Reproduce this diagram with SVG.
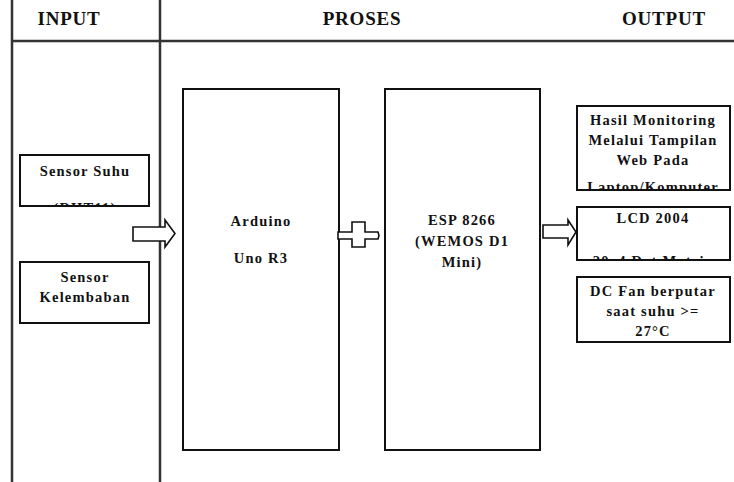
<svg xmlns="http://www.w3.org/2000/svg" width="734" height="482" viewBox="0 0 734 482">
<style>
.box{fill:#fff;stroke:#111;stroke-width:2}
.sep{stroke:#333;stroke-width:2.5;fill:none}
.arr{fill:#fff;stroke:#111;stroke-width:1.6;stroke-linejoin:miter}
.h{font-family:"Liberation Serif",serif;font-weight:bold;font-size:19px;letter-spacing:0.8px;fill:#111;text-anchor:middle}
.t{font-family:"Liberation Serif",serif;font-weight:bold;font-size:14.5px;letter-spacing:1.2px;fill:#111;text-anchor:middle}
</style>
<defs>
<clipPath id="c1"><rect x="21" y="156" width="127" height="49"/></clipPath>
<clipPath id="c2"><rect x="578" y="107" width="151" height="82"/></clipPath>
<clipPath id="c3"><rect x="578" y="208" width="151" height="51"/></clipPath>
</defs>
<rect width="734" height="482" fill="#fff"/>
<g id="frame">
<line class="sep" x1="12" y1="0" x2="12" y2="482"/>
<line class="sep" x1="160" y1="0" x2="160" y2="482"/>
<line class="sep" x1="12" y1="41" x2="734" y2="41"/>
<text class="h" x="69" y="25">INPUT</text>
<text class="h" x="362" y="25">PROSES</text>
<text class="h" x="664" y="25">OUTPUT</text>
</g>
<g id="sensor-suhu">
<rect class="box" x="20" y="155" width="129" height="51"/>
<text class="t" x="85" y="176">Sensor Suhu</text>
<g clip-path="url(#c1)"><text class="t" x="85" y="212.5">(DHT11)</text></g>
</g>
<g id="sensor-kelembaban">
<rect class="box" x="20" y="262" width="129" height="61"/>
<text class="t" x="85" y="282">Sensor</text>
<text class="t" x="85" y="302">Kelembaban</text>
</g>
<g id="arduino">
<rect class="box" x="183" y="89" width="156" height="361"/>
<text class="t" x="261" y="226">Arduino</text>
<text class="t" x="261" y="263">Uno R3</text>
</g>
<g id="esp">
<rect class="box" x="385" y="89" width="155" height="361"/>
<text class="t" x="462" y="225">ESP 8266</text>
<text class="t" x="462" y="246">(WEMOS D1</text>
<text class="t" x="462" y="267">Mini)</text>
</g>
<g id="web">
<rect class="box" x="577" y="106" width="153" height="84"/>
<text class="t" x="653" y="125">Hasil Monitoring</text>
<text class="t" x="653" y="145">Melalui Tampilan</text>
<text class="t" x="653" y="165">Web Pada</text>
<g clip-path="url(#c2)"><text class="t" x="653" y="192">Laptop/Komputer</text></g>
</g>
<g id="lcd">
<rect class="box" x="577" y="207" width="153" height="53"/>
<text class="t" x="653" y="223">LCD 2004</text>
<g clip-path="url(#c3)"><text class="t" x="653" y="266">20x4 Dot Matrix</text></g>
</g>
<g id="fan">
<rect class="box" x="577" y="277" width="153" height="65"/>
<text class="t" x="653" y="296">DC Fan berputar</text>
<text class="t" x="653" y="316">saat suhu &gt;=</text>
<text class="t" x="653" y="336">27°C</text>
</g>
<g id="connectors">
<polygon class="arr" points="133,227 165,227 165,220 175,233.5 165,247 165,241 133,241"/>
<polygon class="arr" points="338,232 352,232 352,222 365,222 365,232 378,232 379,235.5 378,239 365,239 365,247 352,247 352,239 338,239"/>
<polygon class="arr" points="543,225 568,225 568,220 576,232 568,245 568,238 543,238"/>
</g>
</svg>
